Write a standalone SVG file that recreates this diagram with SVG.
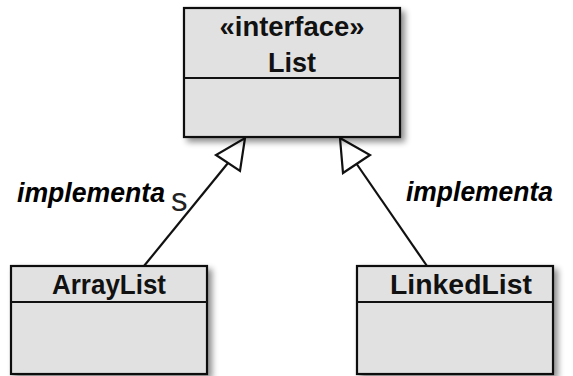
<svg xmlns="http://www.w3.org/2000/svg" width="573" height="376" viewBox="0 0 573 376">
<style>
.box{fill:#e1e1e1;stroke:#111;stroke-width:2.2}
.div{stroke:#111;stroke-width:2.2}
.t{font-family:"Liberation Sans",Arial,sans-serif;font-weight:bold;font-size:27px;fill:#111;text-anchor:middle}
.lbl{font-family:"Liberation Sans",Arial,sans-serif;font-weight:bold;font-style:italic;font-size:27px;fill:#000}
.conn{stroke:#111;stroke-width:2.2;fill:none}
.head{fill:#fff;stroke:#111;stroke-width:2.2;stroke-linejoin:miter}
</style>
<defs>
<filter id="sh" x="-10%" y="-10%" width="130%" height="130%">
<feGaussianBlur in="SourceAlpha" stdDeviation="3"/>
<feOffset dx="4" dy="4" result="b"/>
<feComponentTransfer><feFuncA type="linear" slope="0.45"/></feComponentTransfer>
<feMerge><feMergeNode/><feMergeNode in="SourceGraphic"/></feMerge>
</filter>
</defs>
<rect width="573" height="376" fill="#fff"/>
<g id="connectors">
<line class="conn" x1="144" y1="266" x2="228" y2="163"/>
<polygon class="head" points="245,138 240,171 216,155"/>
<line class="conn" x1="427" y1="266" x2="356" y2="163"/>
<polygon class="head" points="340,138 370,155 343,173"/>
</g>
<g id="List">
<g filter="url(#sh)">
<rect class="box" x="184" y="8" width="216" height="129"/>
</g>
<line class="div" x1="184" y1="78" x2="400" y2="78"/>
<text class="t" x="292" y="36" textLength="145" lengthAdjust="spacingAndGlyphs">«interface»</text>
<text class="t" x="292" y="72">List</text>
</g>
<g id="ArrayList">
<g filter="url(#sh)">
<rect class="box" x="11" y="266" width="196" height="108"/>
</g>
<line class="div" x1="11" y1="302" x2="207" y2="302"/>
<text class="t" x="109" y="294" textLength="114" lengthAdjust="spacingAndGlyphs">ArrayList</text>
</g>
<g id="LinkedList">
<g filter="url(#sh)">
<rect class="box" x="357" y="266" width="196" height="108"/>
</g>
<line class="div" x1="357" y1="302" x2="553" y2="302"/>
<text class="t" x="461" y="294" textLength="142" lengthAdjust="spacingAndGlyphs">LinkedList</text>
</g>
<g id="labels">
<text class="lbl" x="17" y="202" textLength="148" lengthAdjust="spacingAndGlyphs">implementa</text>
<text x="171" y="211" font-family="Liberation Sans,Arial,sans-serif" font-size="33" fill="#222">s</text>
<text class="lbl" x="406" y="201" textLength="147" lengthAdjust="spacingAndGlyphs">implementa</text>
</g>
</svg>
